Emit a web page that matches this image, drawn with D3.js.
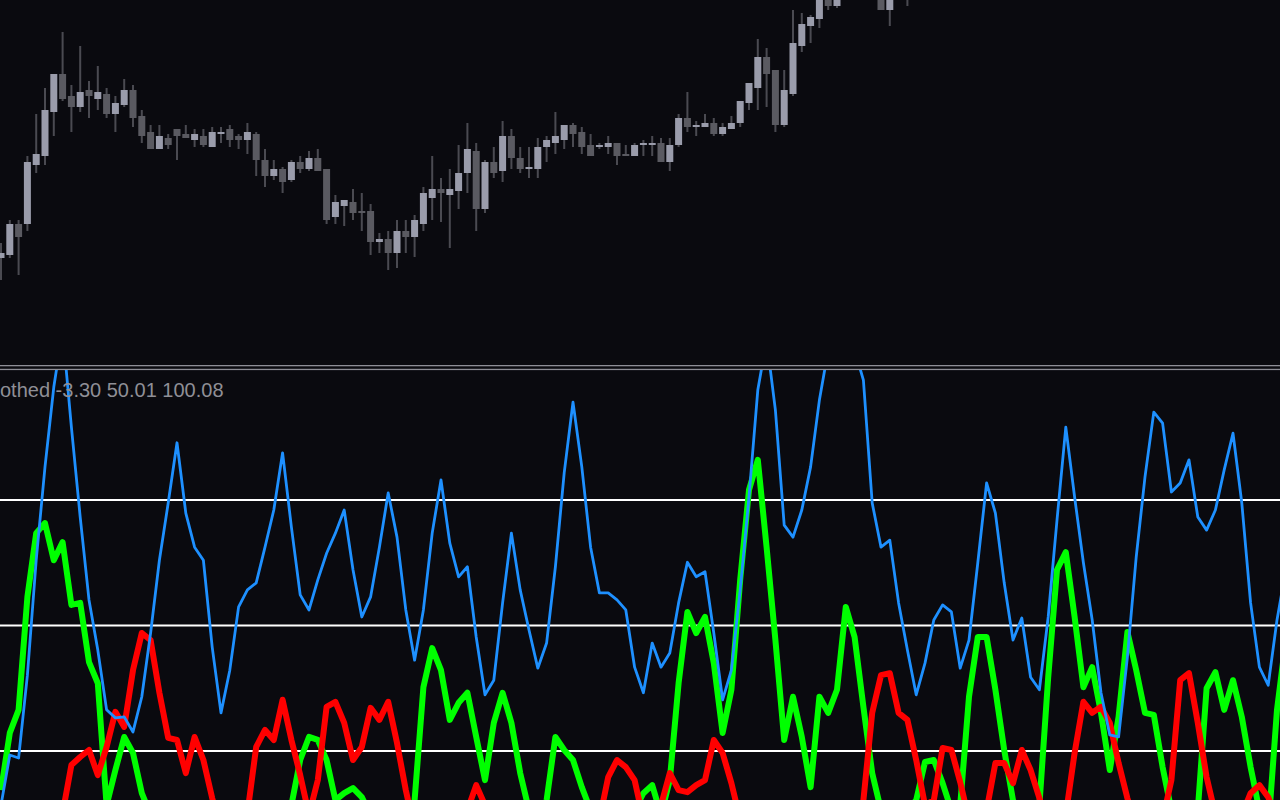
<!DOCTYPE html>
<html><head><meta charset="utf-8">
<script src="https://cdn.jsdelivr.net/npm/d3@7"></script>
<style>html,body{margin:0;padding:0;background:#0a0a0f;overflow:hidden}</style>
</head><body>
<svg id="c" width="1280" height="800"></svg>
<script>
// ---- price candles (bar index 0..103) ----
const openP = [1.0742,1.0745,1.0776,1.0776,1.0835,1.0844,1.0888,1.0926,1.0904,1.0893,1.0910,1.0901,1.0906,1.0886,1.0895,1.0910,1.0884,1.0868,1.0851,1.0862,1.0871,1.0866,1.0860,1.0864,1.0853,1.0866,1.0871,1.0864,1.0860,1.0866,1.0840,1.0824,1.0831,1.0820,1.0838,1.0831,1.0842,1.0831,1.0783,1.0794,1.0798,1.0789,1.0789,1.0758,1.0761,1.0747,1.0769,1.0763,1.0776,1.0802,1.0811,1.0805,1.0809,1.0827,1.0849,1.0791,1.0838,1.0829,1.0864,1.0842,1.0831,1.0831,1.0853,1.0857,1.0860,1.0875,1.0868,1.0855,1.0853,1.0853,1.0857,1.0846,1.0844,1.0855,1.0855,1.0857,1.0838,1.0855,1.0882,1.0873,1.0873,1.0877,1.0866,1.0871,1.0877,1.0897,1.0912,1.0943,1.0930,1.0875,1.0906,1.0954,1.0974,1.0981,1.1003,1.0994,1.1008,1.1030,1.1020,1.1040,1.1015,1.0990,1.1020,1.1018];
const highP = [1.0757,1.0780,1.0780,1.0844,1.0886,1.0912,1.0926,1.0968,1.0915,1.0954,1.0919,1.0934,1.0912,1.0904,1.0921,1.0915,1.0890,1.0875,1.0875,1.0866,1.0871,1.0875,1.0871,1.0871,1.0873,1.0873,1.0875,1.0866,1.0877,1.0868,1.0851,1.0840,1.0833,1.0840,1.0844,1.0849,1.0851,1.0831,1.0805,1.0800,1.0811,1.0807,1.0796,1.0767,1.0769,1.0780,1.0780,1.0785,1.0813,1.0844,1.0822,1.0831,1.0855,1.0877,1.0857,1.0840,1.0853,1.0879,1.0871,1.0853,1.0853,1.0862,1.0864,1.0888,1.0875,1.0877,1.0873,1.0866,1.0857,1.0864,1.0857,1.0855,1.0857,1.0860,1.0864,1.0862,1.0862,1.0886,1.0908,1.0879,1.0886,1.0882,1.0877,1.0884,1.0899,1.0917,1.0961,1.0952,1.0930,1.0930,1.0990,1.0987,1.0985,1.1012,1.1010,1.1015,1.1040,1.1038,1.1050,1.1045,1.1020,1.1015,1.1028,1.1025];
const lowP = [1.0720,1.0742,1.0725,1.0769,1.0827,1.0835,1.0864,1.0899,1.0868,1.0888,1.0882,1.0890,1.0882,1.0868,1.0893,1.0873,1.0857,1.0851,1.0851,1.0851,1.0840,1.0862,1.0853,1.0853,1.0853,1.0857,1.0853,1.0851,1.0846,1.0824,1.0813,1.0820,1.0807,1.0818,1.0827,1.0829,1.0829,1.0776,1.0776,1.0774,1.0780,1.0769,1.0745,1.0747,1.0730,1.0732,1.0747,1.0743,1.0769,1.0780,1.0778,1.0752,1.0791,1.0807,1.0769,1.0787,1.0822,1.0818,1.0831,1.0827,1.0822,1.0822,1.0838,1.0846,1.0851,1.0853,1.0846,1.0844,1.0851,1.0846,1.0835,1.0844,1.0844,1.0844,1.0844,1.0838,1.0829,1.0853,1.0868,1.0864,1.0873,1.0864,1.0864,1.0871,1.0873,1.0890,1.0890,1.0893,1.0868,1.0873,1.0904,1.0948,1.0957,1.0972,1.0990,1.0992,1.1005,1.1010,1.1015,1.1012,1.0990,1.0974,1.1004,1.0994];
const closeP = [1.0747,1.0776,1.0763,1.0838,1.0846,1.0890,1.0926,1.0901,1.0893,1.0908,1.0904,1.0908,1.0886,1.0897,1.0910,1.0882,1.0864,1.0851,1.0864,1.0855,1.0864,1.0862,1.0866,1.0855,1.0868,1.0868,1.0860,1.0860,1.0868,1.0840,1.0824,1.0831,1.0818,1.0838,1.0831,1.0842,1.0829,1.0780,1.0798,1.0800,1.0787,1.0787,1.0758,1.0761,1.0747,1.0769,1.0763,1.0780,1.0807,1.0811,1.0807,1.0811,1.0827,1.0851,1.0791,1.0838,1.0827,1.0864,1.0842,1.0831,1.0833,1.0853,1.0860,1.0864,1.0875,1.0866,1.0853,1.0844,1.0855,1.0857,1.0844,1.0844,1.0855,1.0857,1.0857,1.0838,1.0855,1.0882,1.0873,1.0875,1.0877,1.0866,1.0873,1.0877,1.0899,1.0917,1.0943,1.0926,1.0875,1.0910,1.0957,1.0976,1.0983,1.1005,1.0994,1.1008,1.1030,1.1015,1.1040,1.1015,1.0990,1.1010,1.1008,1.1005];

// ---- indicator lines (bar index 0..146) ----
const blueLine = [14.2,24.2,23.6,40.1,63.0,81.6,97.5,108.9,89.5,71.6,55.1,45.1,33.2,31.6,31.8,28.8,35.8,48.5,63.0,74.4,86.4,72.4,65.6,63.0,45.7,32.6,41.1,53.7,57.1,58.5,65.6,73.0,84.4,69.6,56.1,53.1,59.1,64.4,68.4,73.0,61.1,51.7,55.7,65.6,76.4,67.6,53.1,43.1,53.1,68.4,79.0,66.4,59.7,61.7,47.7,36.2,39.1,54.5,68.4,57.1,49.1,41.5,46.5,61.7,80.4,94.5,81.6,65.6,56.5,56.5,55.1,53.1,41.7,36.6,46.5,41.7,44.5,54.5,62.6,59.7,60.7,48.5,35.2,41.1,57.1,75.6,96.9,106.9,92.9,70.0,67.6,73.0,81.6,94.9,104.9,110.9,108.9,104.9,98.9,74.4,65.6,67.0,54.5,45.1,36.2,42.5,51.1,54.1,52.7,41.5,47.1,62.5,78.4,72.4,58.5,47.1,51.5,39.7,37.2,51.7,71.0,89.5,75.6,62.5,51.1,36.6,28.2,27.8,43.7,63.6,79.6,92.5,90.3,76.6,78.4,83.0,71.6,69.0,73.0,81.0,88.3,74.4,54.5,41.7,38.1,51.1,61.1];
const greenLine = [17.2,28.6,33.2,55.7,68.4,70.4,63.0,66.6,54.1,54.5,42.7,38.5,14.2,21.2,27.8,24.6,16.6,12.3,9.3,7.3,6.3,5.3,5.3,6.3,7.3,6.3,5.3,6.3,7.3,8.3,9.3,10.3,11.3,14.2,23.2,27.8,27.2,23.2,15.2,16.6,17.6,15.8,12.3,10.3,8.3,7.3,9.3,15.2,37.7,45.5,41.1,31.2,34.6,36.6,27.8,19.2,30.6,36.6,30.6,20.6,13.2,5.3,15.2,27.8,25.2,23.2,17.8,13.2,11.3,10.3,10.3,12.3,13.2,16.6,18.2,12.3,19.2,38.5,52.7,48.5,51.7,42.5,28.6,37.2,59.1,77.0,83.0,65.6,47.1,27.2,35.8,27.8,17.8,35.8,32.6,37.2,53.7,47.7,33.8,20.6,13.2,11.3,12.3,13.2,15.2,22.8,23.2,18.6,13.2,14.2,35.8,47.7,47.7,37.2,25.2,15.2,11.3,10.3,14.2,39.7,61.1,64.6,51.7,37.7,41.7,32.6,21.2,31.8,48.7,41.1,32.6,32.2,21.8,13.2,9.3,9.3,13.2,37.5,40.7,33.2,39.1,31.8,21.8,13.2,9.3,33.2,47.1];
const redLine = [9.3,8.3,7.3,6.3,6.3,7.3,9.3,12.6,22.2,23.8,25.2,20.2,25.8,32.8,29.8,41.1,48.5,47.1,36.6,27.6,27.2,20.6,27.8,23.2,15.6,9.3,7.3,9.3,12.6,25.8,29.2,27.2,35.2,27.2,20.2,12.3,19.2,33.8,34.8,30.6,23.2,25.8,33.6,31.2,34.8,26.6,17.2,9.3,6.3,5.3,5.3,6.3,8.3,13.2,18.2,14.2,9.3,7.3,6.3,5.3,5.3,5.3,6.3,6.3,7.3,7.3,8.3,9.3,11.3,19.8,23.2,21.8,19.2,11.3,9.3,14.2,20.6,17.2,16.8,18.2,19.2,27.2,24.6,18.6,11.3,8.3,6.3,5.3,5.3,5.3,6.3,6.3,7.3,7.3,7.3,8.3,9.3,9.3,15.2,32.6,40.1,40.5,32.6,31.2,23.2,14.2,15.2,25.6,25.2,18.8,11.3,9.3,13.2,22.6,22.6,18.6,25.2,21.2,15.6,9.3,8.3,12.3,24.6,34.8,32.6,33.8,30.6,22.6,15.6,9.3,7.3,8.3,11.3,19.2,39.1,40.5,30.6,19.8,12.3,9.3,9.3,12.3,16.6,18.2,15.8,11.3,9.3];
const levels = [25, 50, 75];
const labelText = "othed -3.30 50.01 100.08";

// ---- drawing ----
const W = 1280, H = 800;
const svg = d3.select('#c');
svg.append('rect').attr('width', W).attr('height', H).attr('fill', '#0a0a0f');
const defs = svg.append('defs');
defs.append('clipPath').attr('id', 'topClip').append('rect')
  .attr('x', 0).attr('y', 0).attr('width', W).attr('height', 365);
defs.append('clipPath').attr('id', 'botClip').append('rect')
  .attr('x', 0).attr('y', 370).attr('width', W).attr('height', 430);

const x = d3.scaleLinear().domain([0, 145]).range([1, 1277]);
const yP = d3.scaleLinear().domain([1.1, 1.0635]).range([0, 365]);
const yI = d3.scaleLinear().domain([25, 75]).range([751, 500]);

const candles = openP.map((o, i) => ({ i, o, h: highP[i], l: lowP[i], c: closeP[i] }));
const gTop = svg.append('g').attr('clip-path', 'url(#topClip)');
gTop.selectAll('line.wick').data(candles).join('line').attr('class', 'wick')
  .attr('x1', d => x(d.i)).attr('x2', d => x(d.i))
  .attr('y1', d => yP(d.h)).attr('y2', d => yP(d.l))
  .attr('stroke', '#4a4a51').attr('stroke-width', 2);
gTop.selectAll('rect.body').data(candles).join('rect').attr('class', 'body')
  .attr('x', d => x(d.i) - 3.5).attr('width', 7)
  .attr('y', d => yP(Math.max(d.o, d.c)))
  .attr('height', d => Math.max(2, Math.abs(yP(d.o) - yP(d.c))))
  .attr('fill', d => d.c >= d.o ? '#9a9cab' : '#5a5a61');

// separators
svg.append('rect').attr('x', 0).attr('y', 365).attr('width', W).attr('height', 1.3).attr('fill', '#8e8e96');
svg.append('rect').attr('x', 0).attr('y', 368.8).attr('width', W).attr('height', 1.3).attr('fill', '#8e8e96');

const gBot = svg.append('g').attr('clip-path', 'url(#botClip)');
gBot.selectAll('line.level').data(levels).join('line').attr('class', 'level')
  .attr('x1', 0).attr('x2', W).attr('y1', d => yI(d)).attr('y2', d => yI(d))
  .attr('stroke', '#ffffff').attr('stroke-width', 2);

const line = d3.line().x((d, i) => x(i)).y(d => yI(d));
const series = [
  { data: greenLine, color: '#00ff00', w: 6 },
  { data: redLine, color: '#ff0000', w: 6 },
  { data: blueLine, color: '#1e90ff', w: 2.8 }
];
gBot.selectAll('path.series').data(series).join('path').attr('class', 'series')
  .attr('d', d => line(d.data)).attr('fill', 'none')
  .attr('stroke', d => d.color).attr('stroke-width', d => d.w)
  .attr('stroke-linejoin', 'round');

svg.append('text').attr('x', 0).attr('y', 397)
  .attr('font-family', '"Liberation Sans", Arial, sans-serif').attr('font-size', 20)
  .attr('fill', '#8f8f96').text(labelText);
</script>
</body></html>
